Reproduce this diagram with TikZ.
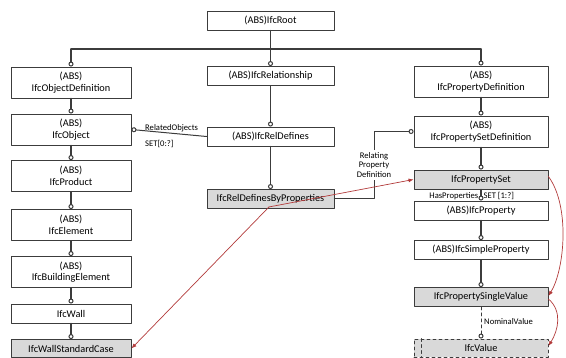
\documentclass[tikz,border=0pt]{standalone}
\usepackage{fontspec}
\setmainfont{Carlito}
\usetikzlibrary{arrows.meta,calc,positioning}
\definecolor{boxline}{HTML}{3C3C3C}
\definecolor{boxgray}{HTML}{D9D9D9}
\definecolor{relred}{HTML}{B23A3A}
\tikzset{
  ent/.style={draw=boxline, fill=white, line width=0.9pt, align=center, inner sep=1pt,
    font=\fontsize{10.3}{11.5}\selectfont},
  entg/.style={ent, fill=boxgray},
  colL/.style={minimum width=120pt},
  colM/.style={minimum width=127pt},
  colR/.style={minimum width=134pt},
  one/.style={minimum height=19pt},
  two/.style={minimum height=31pt},
  sub/.style={draw=boxline, line width=1.3pt, -{Circle[open, length=5pt, width=5pt, line width=1pt]}},
  link/.style={draw=boxline, line width=1pt},
  lbl/.style={font=\fontsize{8.6}{9.6}\selectfont, inner sep=1pt},
  redarr/.style={draw=relred, line width=0.7pt, -{Latex[length=5pt, width=4pt]}},
  every picture/.style={line cap=round, line join=round}
}

\begin{document}
\begin{tikzpicture}[x=1pt, y=1pt]
  \useasboundingbox (0,0) rectangle (566,-358);
  % middle column
  \node[ent, colM, one] (root) at (270.5,-20.5) {(ABS)IfcRoot};
  \node[ent, colM, one] (rel) at (270.5,-76) {(ABS)IfcRelationship};
  \node[ent, colM, one] (reldef) at (270.5,-136.5) {(ABS)IfcRelDefines};
  \node[entg, colM, one] (relbyprop) at (270.5,-199) {IfcRelDefinesByProperties};
  % left column
  \node[ent, colL, two] (objdef) at (71,-82.5) {(ABS)\\IfcObjectDefinition};
  \node[ent, colL, two] (obj) at (71,-129.5) {(ABS)\\IfcObject};
  \node[ent, colL, two] (prod) at (71,-176) {(ABS)\\IfcProduct};
  \node[ent, colL, two] (elem) at (71,-225) {(ABS)\\IfcElement};
  \node[ent, colL, two] (bldg) at (71,-272) {(ABS)\\IfcBuildingElement};
  \node[ent, colL, one] (wall) at (71,-313.5) {IfcWall};
  \node[entg, colL, minimum height=18pt] (wallstd) at (71,-348.5) {IfcWallStandardCase};
  % right column
  \node[ent, colR, two] (propdef) at (481,-81.5) {(ABS)\\IfcPropertyDefinition};
  \node[ent, colR, two] (psetdef) at (481,-131.5) {(ABS)\\IfcPropertySetDefinition};
  \node[entg, colR, one] (pset) at (481,-179.5) {IfcPropertySet};
  \node[ent, colR, one] (prop) at (481,-210.5) {(ABS)IfcProperty};
  \node[ent, colR, one] (simple) at (481,-250) {(ABS)IfcSimpleProperty};
  \node[entg, colR, one] (single) at (481,-297) {IfcPropertySingleValue};
  \node[entg, colR, minimum height=18pt, dashed] (value) at (481,-348) {IfcValue};
  \draw[boxline, line width=0.8pt, dashed] ([xshift=8pt]value.north west) -- ([xshift=8pt]value.south west);

  % inheritance tree
  \coordinate (busL) at (71,-49);
  \coordinate (busM) at (270.5,-49);
  \coordinate (busR) at (481,-49);
  \draw[link, line width=1.3pt] (root) -- (busM);
  \draw[link, line width=1.3pt] (busL) -- (busR);
  \draw[sub] (busL) -- (objdef);
  \draw[sub] (busM) -- (rel);
  \draw[sub] (busR) -- (propdef);
  \draw[sub] (objdef) -- (obj);
  \draw[sub] (obj) -- (prod);
  \draw[sub] (prod) -- (elem);
  \draw[sub] (elem) -- (bldg);
  \draw[sub] (bldg) -- (wall);
  \draw[sub] (wall) -- (wallstd);
  \draw[sub] (rel) -- (reldef);
  \draw[sub] (reldef) -- (relbyprop);
  \draw[sub] (propdef) -- (psetdef);
  \draw[sub] (psetdef) -- (pset);
  \draw[sub] (pset) -- (prop);
  \draw[sub] (prop) -- (simple);
  \draw[sub] (simple) -- (single);
  \draw[sub, line width=0.9pt, dashed] (single) -- (value);

  % attributes
  \draw[sub, line width=1pt] (reldef.west) -- (obj.east);
  \node[lbl, anchor=south west] (relobj) at (144,-133.5) {RelatedObjects};
  \node[lbl, anchor=north west] (relset) at (144,-139) {SET[0:?]};
  \coordinate (rpdA) at (374,-199);
  \coordinate (rpdB) at (374,-131.5);
  \draw[sub, line width=1pt] (relbyprop.east) -- (rpdA) -- (rpdB) -- (psetdef.west);
  \node[lbl, fill=white, align=center, inner sep=2pt] (rpd) at (374,-165)
    {Relating\\Property\\Definition};
  \node[lbl, anchor=east] (hasprop) at (479.5,-196) {HasProperties};
  \node[lbl, anchor=west] (hasset) at (482.5,-196) {SET [1:?]};
  \node[lbl, anchor=west] (nomval) at (483,-322) {NominalValue};

  % instance references
  \coordinate (rsrc) at ($(relbyprop.south)+(-1.5,2)$);
  \draw[redarr] (rsrc) -- (pset.west);
  \draw[redarr] (rsrc) -- (wallstd.east);
  \draw[redarr] ([yshift=3pt]pset.east) .. controls +(22,-30) and +(16,26) .. ([yshift=1pt]single.east);
  \draw[redarr] ([yshift=-2pt]single.east) .. controls +(14,-12) and +(10,16) .. ([yshift=2pt]value.east);
\end{tikzpicture}
\end{document}
